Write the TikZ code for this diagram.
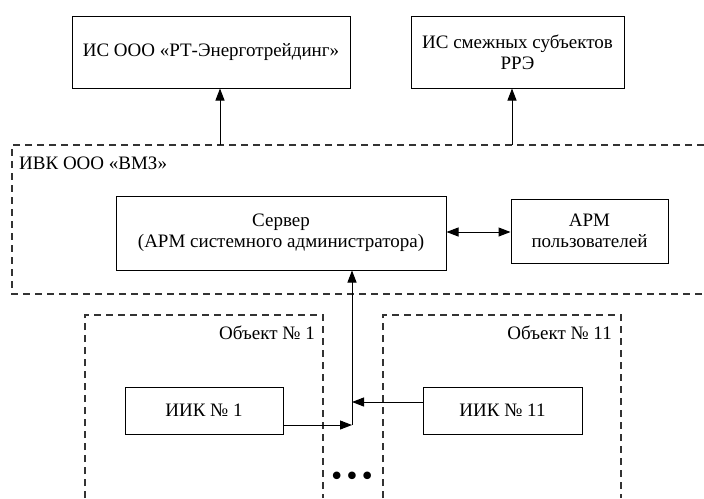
\documentclass[tikz,border=0pt]{standalone}
\usepackage{fontspec}
\setmainfont{Liberation Serif}
\newfontfamily\lserif{Liberation Serif}
\newfontfamily\dotsfont{DejaVu Sans}
\usetikzlibrary{arrows.meta}
\begin{document}
\begin{tikzpicture}[x=1pt,y=-1pt,
  every node/.style={font=\lserif\fontsize{19}{21}\selectfont},
  box/.style={draw, line width=1pt, align=center, inner sep=0pt},
  frame/.style={draw=black!80, line width=1.4pt, dash pattern=on 7pt off 5pt},
  arr/.style={line width=1pt, -{Triangle[length=12pt,width=9pt]}},
  arrboth/.style={line width=1pt, {Triangle[length=12pt,width=9pt]}-{Triangle[length=12pt,width=9pt]}}]
\useasboundingbox (0,0) rectangle (704,498);
\fill[white] (0,0) rectangle (704,498);
% top boxes
\node[box, minimum width=278pt, minimum height=72pt] (is1) at (211,52) {ИС ООО «РТ-Энерготрейдинг»};
\node[box, minimum width=213pt, minimum height=72pt] (is2) at (517.5,52) {ИС смежных субъектов\\РРЭ};
% IVK frame
\draw[frame] (704,145) -- (12,145) -- (12,294) -- (704,294);
\node[anchor=west, inner sep=0pt] (ivk) at (19,163) {ИВК ООО «ВМЗ»};
\node[box, minimum width=330pt, minimum height=74pt] (srv) at (281,233) {Сервер\\(АРМ системного администратора)};
\node[box, minimum width=157pt, minimum height=64pt] (arm) at (589.5,231) {АРМ\\пользователей};
% object frames
\draw[frame] (85,498) -- (85,315) -- (323,315) -- (323,498);
\node[anchor=east, inner sep=0pt] (ob1) at (315,333) {Объект № 1};
\draw[frame] (383,498) -- (383,315) -- (621,315) -- (621,498);
\node[anchor=east, inner sep=0pt] (ob11) at (612,333) {Объект № 11};
\node[box, minimum width=158pt, minimum height=47pt] (iik1) at (204,410.5) {ИИК № 1};
\node[box, minimum width=159pt, minimum height=47pt] (iik11) at (502.5,410.5) {ИИК № 11};
% connectors
\coordinate (t1) at (220,145);
\coordinate (t2) at (512,145);
\draw[arr] (t1) -- (t1 |- is1.south);
\draw[arr] (t2) -- (t2 |- is2.south);
\coordinate (d1) at (446,232);
\draw[arrboth] (srv.east |- d1) -- (arm.west |- d1);
\coordinate (j1) at (352,425);
\coordinate (j2) at (352,402);
\draw[arr] (j1) -- (j1 |- srv.south);
\draw[arr] (iik1.east |- j1) -- (j1);
\draw[arr] (iik11.west |- j2) -- (j2);
\node[font=\dotsfont\fontsize{26}{26}\selectfont, inner sep=0pt] (dots) at (352,479) {•\hspace{0pt}•\hspace{0pt}•};
\end{tikzpicture}
\end{document}
